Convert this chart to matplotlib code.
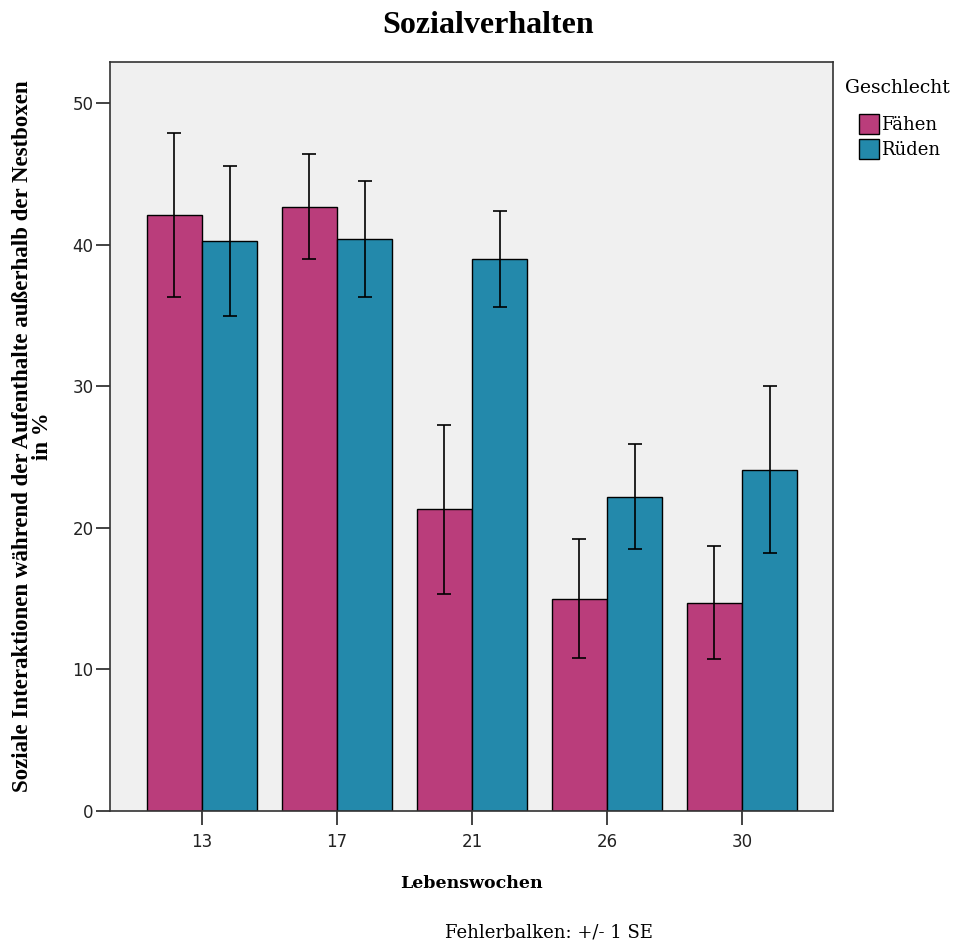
import matplotlib.pyplot as plt
from matplotlib import font_manager as fm
import numpy as np

weeks = ["13", "17", "21", "26", "30"]
faehen = [42.1, 42.7, 21.3, 15.0, 14.7]
faehen_se = [5.8, 3.7, 6.0, 4.2, 4.0]
rueden = [40.3, 40.4, 39.0, 22.2, 24.1]
rueden_se = [5.3, 4.1, 3.4, 3.7, 5.9]

c_f = "#BA3D7B"
c_r = "#2389AB"


def font(name, weight="normal", size=12):
    # pick the exact font file so no fallback sneaks in
    for f in fm.fontManager.ttflist:
        if f.name == name and f.weight == (700 if weight == "bold" else 400) and f.style == "normal":
            return fm.FontProperties(fname=f.fname, size=size)
    return fm.FontProperties(family=name, weight=weight, size=size)


fig = plt.figure(figsize=(9.57, 9.44), dpi=100)
ax = fig.add_axes([0.115, 0.141, 0.755, 0.793])
ax.set_facecolor("#F0F0F0")

x = np.arange(len(weeks))
w = 0.41
err_kw = dict(ecolor="black", elinewidth=1.2, capsize=4.7, capthick=1.2)
ax.bar(x - w / 2, faehen, w, yerr=faehen_se, color=c_f, edgecolor="black",
       linewidth=1.0, error_kw=err_kw, label="Fähen")
ax.bar(x + w / 2, rueden, w, yerr=rueden_se, color=c_r, edgecolor="black",
       linewidth=1.0, error_kw=err_kw, label="Rüden")

ax.set_xlim(-0.68, 4.67)
ax.set_ylim(0, 52.9)
ax.set_yticks([0, 10, 20, 30, 40, 50])
ax.set_xticks(x)
ax.set_xticklabels(weeks)
ax.tick_params(axis="both", labelsize=12, length=10, width=1.2, colors="#222222", pad=2)
ax.tick_params(axis="x", pad=6)
for s in ax.spines.values():
    s.set_linewidth(1.2)
    s.set_color("#333333")

fig.text(0.51, 0.973, "Sozialverhalten", ha="center", va="center",
         fontproperties=font("Liberation Serif", "bold", 23))
ax.set_xlabel("Lebenswochen", fontproperties=font("DejaVu Serif", "bold", 12.5), labelpad=17)
ax.set_ylabel("Soziale Interaktionen während der Aufenthalte außerhalb der Nestboxen\nin %",
              fontproperties=font("Liberation Serif", "bold", 16.5), labelpad=14, linespacing=0.9)
fig.text(0.574, 0.003, "Fehlerbalken: +/- 1 SE", ha="center", va="bottom",
         fontproperties=font("DejaVu Serif", "normal", 13))

# legend title placed separately, the entries sit a bit lower in the original
fig.text(845 / 957, 1 - 88 / 944, "Geschlecht", ha="left", va="center",
         fontproperties=font("DejaVu Serif", "normal", 13.5))
leg = ax.legend(loc="upper left", bbox_to_anchor=(1.019, 0.948),
                frameon=False, prop=font("DejaVu Serif", "normal", 13),
                handlelength=1.1, handleheight=1.3, handletextpad=0.15,
                labelspacing=0.3, borderaxespad=0.3)

fig.savefig("out.png", dpi=100)
